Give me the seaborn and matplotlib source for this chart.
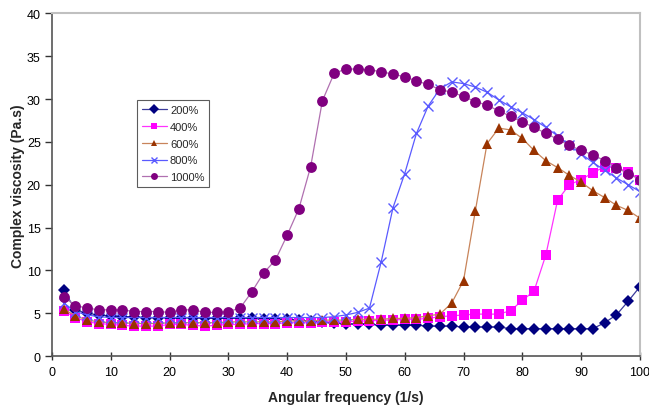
import numpy as np
import pandas as pd
import matplotlib
matplotlib.use("Agg")
import matplotlib.pyplot as plt
import seaborn as sns

sns.set_theme(style="white")
plt.rcParams['font.family'] = ['Liberation Sans', 'DejaVu Sans']

# Dados
freq = list(range(2, 101, 2))

visc_200 = [7.7, 5.4, 5.0, 4.8, 4.7, 4.6, 4.6, 4.5, 4.5, 4.5,
            4.5, 4.5, 4.4, 4.4, 4.4, 4.4, 4.4, 4.3, 4.3, 4.3,
            4.2, 4.1, 4.0, 3.9, 3.8, 3.7, 3.7, 3.6, 3.6, 3.6,
            3.6, 3.5, 3.5, 3.5, 3.4, 3.4, 3.4, 3.4, 3.2, 3.2,
            3.2, 3.2, 3.2, 3.2, 3.2, 3.2, 3.9, 4.8, 6.4, 8.1]
visc_400 = [5.3, 4.5, 4.0, 3.8, 3.7, 3.6, 3.5, 3.5, 3.5, 3.7,
            3.7, 3.6, 3.5, 3.6, 3.7, 3.7, 3.8, 3.8, 3.8, 3.9,
            3.9, 3.9, 4.0, 4.0, 4.0, 4.1, 4.1, 4.2, 4.2, 4.3,
            4.3, 4.4, 4.6, 4.7, 4.8, 4.9, 4.9, 4.9, 5.3, 6.5,
            7.6, 11.8, 18.2, 20.0, 20.6, 21.4, 22.1, 22.0, 21.5, 20.6]
visc_600 = [5.5, 4.7, 4.2, 4.0, 3.9, 3.9, 3.8, 3.8, 3.8, 3.9,
            3.9, 3.9, 3.9, 3.9, 4.0, 4.0, 4.0, 4.0, 4.0, 4.1,
            4.1, 4.1, 4.2, 4.2, 4.2, 4.3, 4.3, 4.3, 4.4, 4.4,
            4.5, 4.7, 4.9, 6.2, 8.8, 16.9, 24.8, 26.6, 26.4, 25.4,
            24.0, 22.8, 22.0, 21.1, 20.3, 19.3, 18.5, 17.6, 17.0, 16.1]
visc_800 = [6.2, 5.2, 4.8, 4.6, 4.5, 4.5, 4.5, 4.5, 4.5, 4.5,
            4.5, 4.5, 4.5, 4.5, 4.5, 4.5, 4.5, 4.5, 4.5, 4.5,
            4.5, 4.5, 4.5, 4.6, 4.8, 5.1, 5.6, 11.0, 17.3, 21.3,
            26.0, 29.2, 31.2, 32.0, 31.8, 31.4, 30.8, 29.9, 29.1, 28.4,
            27.6, 26.7, 25.7, 24.6, 23.6, 22.6, 21.7, 20.8, 20.0, 19.2]
visc_1000 = [6.9, 5.9, 5.6, 5.4, 5.4, 5.4, 5.2, 5.2, 5.2, 5.1,
             5.4, 5.4, 5.1, 5.1, 5.2, 5.6, 7.5, 9.7, 11.2, 14.1,
             17.2, 22.1, 29.8, 33.0, 33.5, 33.5, 33.4, 33.2, 32.9, 32.6,
             32.1, 31.7, 31.1, 30.8, 30.3, 29.7, 29.3, 28.6, 28.0, 27.3,
             26.7, 26.0, 25.3, 24.6, 24.0, 23.5, 22.8, 22.0, 21.3, 20.6]

series = ['200%', '400%', '600%', '800%', '1000%']
df = pd.concat([
    pd.DataFrame({'freq': freq, 'visc': v, 'serie': s})
    for s, v in zip(series, [visc_200, visc_400, visc_600, visc_800, visc_1000])
])

# cor do marcador / cor da linha
cores = {'200%': '#000080', '400%': '#ff00ff', '600%': '#993300',
         '800%': '#5a5aff', '1000%': '#800080'}
cores_linha = {'200%': '#3a3a9a', '400%': '#ff33ff', '600%': '#c8845a',
               '800%': '#5a5aff', '1000%': '#b070b0'}
marcadores = {'200%': 'D', '400%': 's', '600%': '^', '800%': 'x', '1000%': 'o'}
tamanhos = {'200%': 6.3, '400%': 7, '600%': 7.5, '800%': 6.5, '1000%': 7.8}

fig, ax = plt.subplots(figsize=(6.49, 4.10), dpi=100)
fig.subplots_adjust(left=0.080, right=0.986, bottom=0.129, top=0.965)

for s in series:
    sns.lineplot(data=df[df['serie'] == s], x='freq', y='visc', ax=ax,
                 color=cores_linha[s], marker=marcadores[s], markersize=tamanhos[s],
                 markerfacecolor=cores[s], markeredgecolor=cores[s],
                 markeredgewidth=1 if s == '800%' else 0,
                 linewidth=0.9, label=s)

ax.set_xlim(0, 100)
ax.set_ylim(0, 40)
ax.set_xticks(range(0, 101, 10))
ax.set_yticks(range(0, 41, 5))
ax.tick_params(axis='x', direction='inout', length=6, width=1, colors='#333333',
               labelcolor='black', labelsize=9, bottom=True, pad=4)
ax.tick_params(axis='y', direction='out', length=5, width=1, colors='#333333',
               labelcolor='black', labelsize=9, left=True, pad=3)
for lado in ['left', 'bottom']:
    ax.spines[lado].set_color('#555555')
    ax.spines[lado].set_linewidth(1.2)
for lado in ['top', 'right']:
    ax.spines[lado].set_color('#c0c0c0')
    ax.spines[lado].set_linewidth(1.5)

ax.set_xlabel('Angular frequency (1/s)', fontsize=10, fontweight='bold', labelpad=9)
ax.set_ylabel('Complex viscosity (Pa.s)', fontsize=10, fontweight='bold', labelpad=1)

leg = ax.legend(loc='upper left', bbox_to_anchor=(0.145, 0.748), fontsize=8,
                frameon=True, fancybox=False, borderpad=0.45, labelspacing=0.62,
                handlelength=2.2, handletextpad=0.3, borderaxespad=0)
leg.get_frame().set_edgecolor('#333333')
leg.get_frame().set_linewidth(0.8)
for h in leg.legend_handles:
    h.set_markersize(5)

plt.savefig('out.png', dpi=100)
plt.close()
